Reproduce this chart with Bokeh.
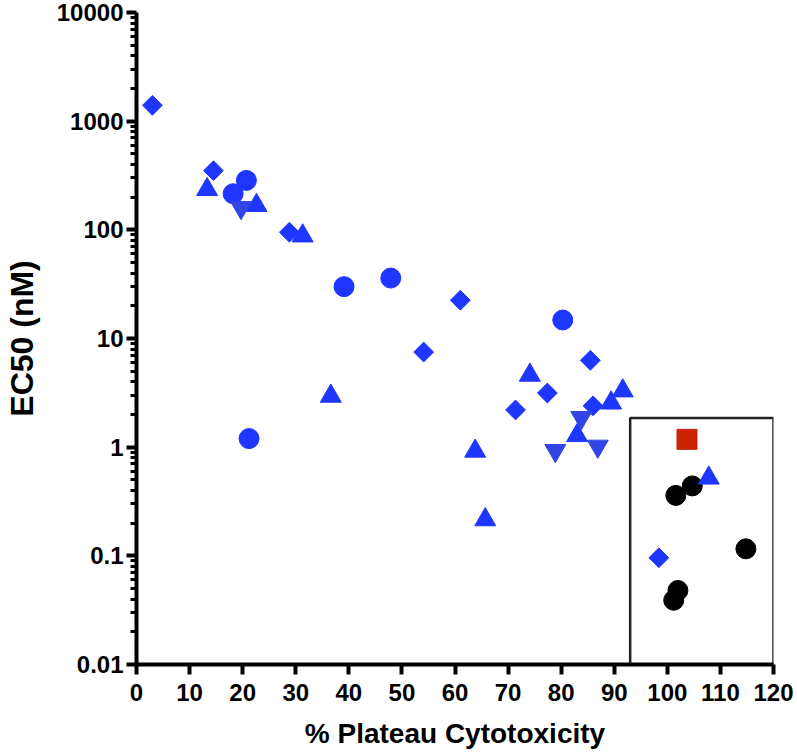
from bokeh.plotting import figure
from bokeh.models import FixedTicker, CustomJSTickFormatter
from bokeh.embed import file_html
from bokeh.resources import INLINE
import numpy as np

# ---- data ----
diamond_x = [3.0, 14.5, 28.8, 54.1, 61.0, 71.4, 77.4, 85.5, 86.0, 98.4]
diamond_y = [1400, 350, 95, 7.5, 22.5, 2.2, 3.15, 6.3, 2.4, 0.096]

tri_up_x = [13.3, 22.6, 31.3, 36.6, 63.8, 65.7, 74.1, 83.0, 89.4, 91.6, 107.8]
tri_up_y = [235, 168, 88, 2.95, 0.92, 0.215, 4.6, 1.28, 2.55, 3.3, 0.52]

circle_x = [18.2, 20.7, 21.2, 39.1, 47.9, 80.3]
circle_y = [215, 285, 1.2, 30, 36, 14.8]

tri_down_x = [19.7, 78.9, 83.8, 86.9]
tri_down_y = [160, 0.93, 1.87, 1.02]

square_x = [103.7]
square_y = [1.18]

black_x = [101.6, 104.7, 114.8, 102.0, 101.2]
black_y = [0.36, 0.44, 0.116, 0.048, 0.039]

inset_left = 93
inset_right = 120
inset_top = 1.86

x_ticks = [0, 10, 20, 30, 40, 50, 60, 70, 80, 90, 100, 110, 120]
y_ticks = [0.01, 0.1, 1, 10, 100, 1000, 10000]

FONT = "Liberation Sans"
BLUE = "#1f36ff"

p = figure(width=797, height=752, x_range=(0, 120), y_range=(0.01, 10000),
           y_axis_type="log", output_backend="svg", toolbar_location=None,
           min_border_left=132, min_border_right=24, min_border_top=12,
           min_border_bottom=88)
p.outline_line_color = None
p.xgrid.grid_line_color = None
p.ygrid.grid_line_color = None
p.background_fill_color = "white"
p.border_fill_color = "white"

# inset box
p.quad(left=[inset_left], right=[inset_right], bottom=[y_ticks[0]], top=[inset_top],
       fill_color=None, line_color="#222222", line_width=2.5)

# markers
p.scatter(black_x, black_y, marker="circle", size=20, fill_color="black", line_color="black")
p.scatter(square_x, square_y, marker="square", size=20, fill_color="#cc2200", line_color="#cc2200")
p.scatter(circle_x, circle_y, marker="circle", size=20, fill_color=BLUE, line_color=BLUE)
p.scatter(diamond_x, diamond_y, marker="square", angle=np.pi / 4, size=14,
          fill_color=BLUE, line_color=BLUE)
p.scatter(tri_up_x, tri_up_y, marker="triangle", size=21, fill_color=BLUE, line_color=BLUE)
p.scatter(tri_down_x, tri_down_y, marker="inverted_triangle", size=21,
          fill_color="#3344e6", line_color="#3344e6")

# axes
minor = [m * t for t in y_ticks[:-1] for m in range(2, 10)]
p.yaxis.ticker = FixedTicker(ticks=y_ticks, minor_ticks=minor)
p.xaxis.ticker = FixedTicker(ticks=x_ticks)
p.yaxis.formatter = CustomJSTickFormatter(code="return String(tick);")

for ax in (p.xaxis[0], p.yaxis[0]):
    ax.axis_line_width = 4
    ax.axis_line_color = "black"
    ax.major_tick_line_width = 4
    ax.major_tick_line_color = "black"
    ax.major_tick_out = 10
    ax.major_tick_in = 0
    ax.major_label_text_font = FONT
    ax.major_label_text_font_style = "bold"
    ax.major_label_text_font_size = "24px"
    ax.major_label_text_color = "black"
    ax.axis_label_text_font = FONT
    ax.axis_label_text_font_style = "bold"
    ax.axis_label_text_color = "black"

p.xaxis.minor_tick_line_color = None
p.yaxis.minor_tick_line_width = 3
p.yaxis.minor_tick_line_color = "black"
p.yaxis.minor_tick_out = 6
p.yaxis.minor_tick_in = 0

p.xaxis.major_label_standoff = 9
p.yaxis.major_label_standoff = 3
p.xaxis.axis_label = "% Plateau Cytotoxicity"
p.xaxis.axis_label_text_font_size = "28px"
p.xaxis.axis_label_standoff = 14
p.yaxis.axis_label = "EC50 (nM)"
p.yaxis.axis_label_text_font_size = "32px"
p.yaxis.axis_label_standoff = 14

open("out.html", "w").write(file_html(p, INLINE))
